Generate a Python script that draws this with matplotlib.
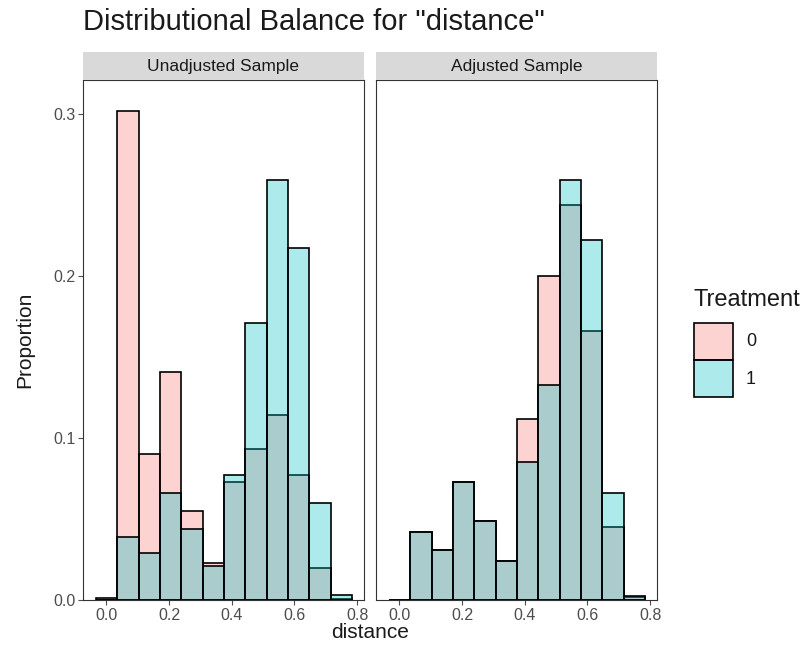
import matplotlib
matplotlib.use("Agg")
import matplotlib.pyplot as plt
from matplotlib.colors import to_rgba
from matplotlib.patches import Rectangle

plt.rcParams['font.family'] = ['Liberation Sans', 'DejaVu Sans']

# histogram bins (centres) for "distance"
bin_width = 0.75 / 11
bin_centers = [i * bin_width for i in range(12)]

# proportions per bin
unadj_t0 = [0.001, 0.302, 0.090, 0.141, 0.055, 0.023, 0.073, 0.093, 0.114, 0.077, 0.020, 0.0005]
unadj_t1 = [0.000, 0.039, 0.029, 0.066, 0.044, 0.021, 0.077, 0.171, 0.259, 0.217, 0.060, 0.003]
adj_t0 = [0.000, 0.042, 0.031, 0.073, 0.049, 0.024, 0.112, 0.200, 0.244, 0.166, 0.045, 0.002]
adj_t1 = [0.000, 0.042, 0.031, 0.073, 0.049, 0.024, 0.085, 0.133, 0.259, 0.222, 0.066, 0.0025]

panels = ["Unadjusted Sample", "Adjusted Sample"]
groups = ["0", "1"]
colors = ["#F8766D", "#00BFC4"]
alpha = 0.32

xticks = [0.0, 0.2, 0.4, 0.6, 0.8]
yticks = [0.0, 0.1, 0.2, 0.3]

W, H = 811, 656
fig = plt.figure(figsize=(W / 100, H / 100), dpi=100)

def px(x0, y0, x1, y1):
    return [x0 / W, 1 - y1 / H, (x1 - x0) / W, (y1 - y0) / H]

panel_box = [(83, 80, 364, 600), (376, 80, 657, 600)]
data = [(unadj_t0, unadj_t1), (adj_t0, adj_t1)]
grid = "#333333"
tick_col = "#4d4d4d"

for k, (box, (v0, v1), name) in enumerate(zip(panel_box, data, panels)):
    ax = fig.add_axes(px(*box))
    for vals, c in zip((v0, v1), colors):
        ax.bar(bin_centers, vals, width=bin_width, facecolor=to_rgba(c, alpha),
               edgecolor="black", linewidth=1.2)
    ax.set_xlim(-0.075, 0.822)
    ax.set_ylim(0, 0.321)
    ax.set_xticks(xticks)
    ax.set_xticklabels(["%.1f" % t for t in xticks], fontsize=11.5, color=tick_col)
    ax.set_yticks(yticks)
    if k == 0:
        ax.set_yticklabels(["%.1f" % t for t in yticks], fontsize=11.5, color=tick_col)
        ax.tick_params(axis="y", length=3.5, color=tick_col, width=0.8, pad=2)
    else:
        ax.tick_params(axis="y", left=False, labelleft=False)
    ax.tick_params(axis="x", length=3.5, color=tick_col, width=0.8, pad=2)
    for s in ax.spines.values():
        s.set_color(grid)
        s.set_linewidth(0.8)
    # facet strip
    sx = fig.add_axes(px(box[0], 52, box[2], 80))
    sx.set_facecolor("#d9d9d9")
    sx.set_xticks([])
    sx.set_yticks([])
    for s in sx.spines.values():
        s.set_visible(False)
    sx.text(0.5, 0.5, name, ha="center", va="center", fontsize=12.5, color="#1a1a1a",
            transform=sx.transAxes)

fig.text(83 / W, 1 - 22 / H, 'Distributional Balance for "distance"', ha="left",
         va="center", fontsize=21, color="#1a1a1a")
fig.text((83 + 657) / 2 / W, 1 - 632 / H, "distance", ha="center", va="center",
         fontsize=15, color="#1a1a1a")
fig.text(25 / W, 1 - 340 / H, "Proportion", ha="center", va="center",
         rotation=90, fontsize=15, color="#1a1a1a")

# legend
fig.text(693 / W, 1 - 300 / H, "Treatment", ha="left", va="center", fontsize=17,
         color="#1a1a1a")
lax = fig.add_axes([0, 0, 1, 1], facecolor="none")
lax.set_xlim(0, W)
lax.set_ylim(H, 0)
lax.axis("off")
for i, (g, c) in enumerate(zip(groups, colors)):
    y0 = 323 + i * 37
    lax.add_patch(Rectangle((694, y0), 39, 37, facecolor=to_rgba(c, alpha),
                            edgecolor="black", linewidth=1.2))
    lax.text(746, y0 + 19, g, ha="left", va="center", fontsize=13, color="#1a1a1a")

fig.savefig("out.png", dpi=100)
